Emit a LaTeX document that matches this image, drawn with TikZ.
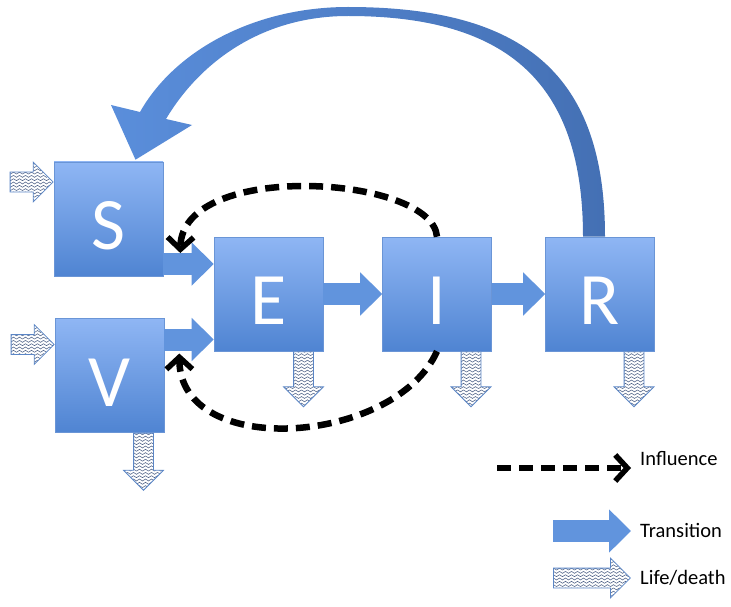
\documentclass[tikz,border=0pt]{standalone}
\usepackage{fontspec}
\setmainfont{Carlito}
\usetikzlibrary{arrows.meta,shapes.arrows,patterns,calc,positioning}

\definecolor{boxtop}{HTML}{8FB6F4}
\definecolor{boxbottom}{HTML}{4F84D2}
\definecolor{boxedge}{HTML}{6A95D6}
\definecolor{transblue}{HTML}{6194DD}
\definecolor{arrowhead}{HTML}{5A8EDB}
\definecolor{arrowlight}{HTML}{7BAAF0}
\definecolor{arrowdark}{HTML}{4470B4}
\definecolor{lifeedge}{HTML}{5B86C6}
\definecolor{wavegray}{HTML}{4F6287}

\pgfdeclarepatternformonly{wavelines}{\pgfqpoint{-1pt}{-1pt}}{\pgfqpoint{7pt}{4.3pt}}{\pgfqpoint{6pt}{3.3pt}}{%
  \pgfsetlinewidth{0.55pt}%
  \pgfpathmoveto{\pgfqpoint{0pt}{1.6pt}}%
  \pgfpathcurveto{\pgfqpoint{1pt}{2.9pt}}{\pgfqpoint{2pt}{2.9pt}}{\pgfqpoint{3pt}{1.6pt}}%
  \pgfpathcurveto{\pgfqpoint{4pt}{0.3pt}}{\pgfqpoint{5pt}{0.3pt}}{\pgfqpoint{6pt}{1.6pt}}%
  \pgfusepath{stroke}}

\tikzset{
  compartment/.style={draw=boxedge, line width=0.6pt, top color=boxtop, bottom color=boxbottom,
    minimum width=109pt, minimum height=114pt, inner sep=0pt, text=white,
    font=\fontsize{74}{74}\selectfont, text height=64pt, text depth=2.4pt},
  transition/.style={draw=transblue, line width=22pt, -{Triangle[length=22pt,width=42pt]}},
  influence/.style={draw=black, line width=6.5pt, dash pattern=on 14pt off 8pt,
    -{Straight Barb[length=12pt,width=26pt,line width=5.5pt]}},
  lifearrow/.style={single arrow, draw=lifeedge, line width=0.8pt, preaction={fill=white},
    pattern=wavelines, pattern color=wavegray, minimum height=55pt, inner sep=0pt,
    inner ysep=9.5pt, single arrow head extend=10pt},
  legendtext/.style={inner sep=0pt, font=\fontsize{20.5}{20.5}\selectfont}
}

\begin{document}
\begin{tikzpicture}[x=1pt,y=-1pt]
\useasboundingbox (0,0) rectangle (731,607);

\node[compartment] (S) at (108.5,219) {S};
\node[compartment] (V) at (109.5,375.5) {V};
\node[compartment] (E) at (268.5,294) {E};
\node[compartment] (I) at (437,294) {I};
\node[compartment] (R) at (600,294) {R};

\coordinate (s1) at ($(S.east)+(0,45)$);
\coordinate (v1) at ($(V.east)+(0,-36)$);
\draw[transition] (s1) -- (s1 -| E.west);
\draw[transition] (v1) -- (v1 -| E.west);
\draw[transition] (E.east) -- (I.west);
\draw[transition] (I.east) -- (R.west);

\shade[left color=arrowhead, middle color=arrowlight, right color=arrowdark]
  ([xshift=5pt]R.north) .. controls (605,75) and (525,7) .. (348,7)
  .. controls (255,7) and (175,50) .. (140,112) -- (111,105)
  -- ([xshift=27pt,yshift=2pt]S.north) -- (192,125) -- (166,119)
  .. controls (200,62) and (262,16) .. (348,16)
  .. controls (510,16) and (583,85) .. ([xshift=-17pt]R.north) -- cycle;

\node[lifearrow, minimum height=43pt, anchor=tip] (inS) at ([yshift=37pt]S.west) {};
\node[lifearrow, minimum height=43pt, anchor=tip] (inV) at ([yshift=31pt]V.west) {};
\node[lifearrow, rotate=-90, minimum height=57pt, anchor=tail] (outV) at ([xshift=34pt]V.south) {};
\node[lifearrow, rotate=-90, anchor=tail] (outE) at ([xshift=35pt]E.south) {};
\node[lifearrow, rotate=-90, anchor=tail] (outI) at ([xshift=34pt]I.south) {};
\node[lifearrow, rotate=-90, anchor=tail] (outR) at ([xshift=34pt]R.south) {};

\coordinate (hitSE) at ($(S.east)+(17,34)$);
\coordinate (hitVE) at ($(V.east)+(15,-22)$);
\draw[influence] (I.north) .. controls (432,175) and (182,160) .. (hitSE);
\draw[influence] (I.south) .. controls (395,445) and (180,460) .. (hitVE);

% legend
\node[legendtext, anchor=base west] (inflText) at (640,465) {Influence};
\node[legendtext, anchor=base west] (transText) at (640,537) {Transition};
\node[legendtext, anchor=base west] (lifeText) at (640,584) {Life/death};
\coordinate (inflStart) at (497,468);
\coordinate (inflEnd) at ([xshift=-9pt]inflText.west);
\draw[influence] (inflStart) -- (inflStart -| inflEnd);
\coordinate (transStart) at (553,531);
\coordinate (transEnd) at ([xshift=-9pt]transText.west);
\draw[transition] (transStart) -- (transStart -| transEnd);
\node[lifearrow, minimum height=77pt, anchor=tail] (lifeKey) at (553,578) {};
\end{tikzpicture}
\end{document}
